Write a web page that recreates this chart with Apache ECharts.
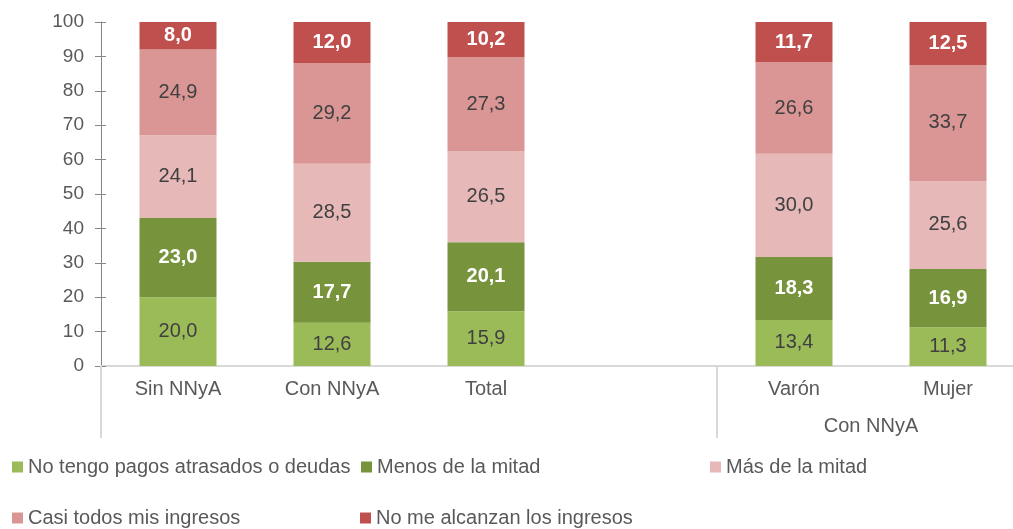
<!DOCTYPE html>
<html>
<head>
<meta charset="utf-8">
<script src="https://cdn.jsdelivr.net/npm/echarts@6/dist/echarts.min.js"></script>
<style>
  html, body { margin: 0; padding: 0; background: #fff; }
  #chart { width: 1013px; height: 529px; }
</style>
</head>
<body>
<div id="chart"></div>
<script>
// categories (empty slot between Total and the "Con NNyA" group)
const categories = ['Sin NNyA', 'Con NNyA', 'Total', '', 'Varón', 'Mujer']
const seriesNames = ['No tengo pagos atrasados o deudas', 'Menos de la mitad', 'Más de la mitad', 'Casi todos mis ingresos', 'No me alcanzan los ingresos']

const sinDeudas = [20.0, 12.6, 15.9, '-', 13.4, 11.3]
const menosMitad = [23.0, 17.7, 20.1, '-', 18.3, 16.9]
const masMitad = [24.1, 28.5, 26.5, '-', 30.0, 25.6]
const casiTodos = [24.9, 29.2, 27.3, '-', 26.6, 33.7]
const noAlcanzan = [8.0, 12.0, 10.2, '-', 11.7, 12.5]

const yTicks = { min: 0, max: 100, interval: 10 }
const groupLabel = 'Con NNyA'

const colors = ['#9bbb59', '#77933c', '#e6b9b8', '#d99694', '#c0504d']
const boldWhite = [false, true, false, false, true]
const values = [sinDeudas, menosMitad, masMitad, casiTodos, noAlcanzan]

const FONT = 'Liberation Sans, Arial, sans-serif'
const fmt = p => (typeof p.value === 'number' ? p.value.toFixed(1).replace('.', ',') : '')

const chart = echarts.init(document.getElementById('chart'))

const series = seriesNames.map((name, i) => ({
  name,
  type: 'bar',
  stack: 'total',
  barWidth: '50%',
  data: values[i],
  itemStyle: { color: colors[i] },
  label: {
    show: true,
    position: 'inside',
    formatter: fmt,
    fontFamily: FONT,
    fontSize: 20,
    color: boldWhite[i] ? '#ffffff' : '#404040',
    fontWeight: boldWhite[i] ? 'bold' : 'normal'
  }
}))

// legend laid out like the original (two rows, uneven spacing)
const legendPos = [
  { left: 12, top: 457 },
  { left: 361, top: 457 },
  { left: 710, top: 457 },
  { left: 12, top: 508 },
  { left: 360, top: 508 }
]
const legends = seriesNames.map((name, i) => ({
  data: [name],
  left: legendPos[i].left,
  top: legendPos[i].top,
  icon: 'rect',
  itemWidth: 11,
  itemHeight: 11,
  itemGap: 0,
  padding: 0,
  textStyle: { fontFamily: FONT, fontSize: 20, color: '#595959', padding: [0, 0, 0, 0] }
}))

const yAxisBase = {
  type: 'value',
  min: yTicks.min,
  max: yTicks.max,
  interval: yTicks.interval,
  splitLine: { show: false }
}

chart.setOption({
  animation: false,
  color: colors,
  grid: { left: 101, top: 22, bottom: 163, width: 924, outerBoundsMode: 'none', containLabel: false },
  legend: legends,
  xAxis: [
    {
      type: 'category',
      data: categories,
      axisLine: { lineStyle: { color: '#d9d9d9', width: 2 } },
      axisTick: { show: false },
      axisLabel: { fontFamily: FONT, fontSize: 20, color: '#595959', margin: 13 }
    },
    {
      type: 'value',
      position: 'bottom',
      min: 0,
      max: categories.length,
      axisLine: { show: false },
      splitLine: { show: false },
      axisTick: {
        show: true,
        customValues: [0, 4],
        length: 72,
        lineStyle: { color: '#d9d9d9', width: 2 }
      },
      axisLabel: {
        customValues: [5],
        formatter: () => groupLabel,
        fontFamily: FONT,
        fontSize: 20,
        color: '#595959',
        margin: 50
      }
    }
  ],
  yAxis: [
    Object.assign({}, yAxisBase, {
      axisLine: { show: true, lineStyle: { color: '#868686' } },
      axisTick: { show: true, length: 6, lineStyle: { color: '#868686' } },
      axisLabel: { fontFamily: FONT, fontSize: 19, color: '#595959', margin: 17 }
    }),
    // second copy only to draw the tick marks crossing into the plot
    Object.assign({}, yAxisBase, {
      position: 'left',
      axisLine: { show: false },
      axisTick: { show: true, inside: true, length: 5, lineStyle: { color: '#868686' } },
      axisLabel: { show: false }
    })
  ],
  series
})
</script>
</body>
</html>
